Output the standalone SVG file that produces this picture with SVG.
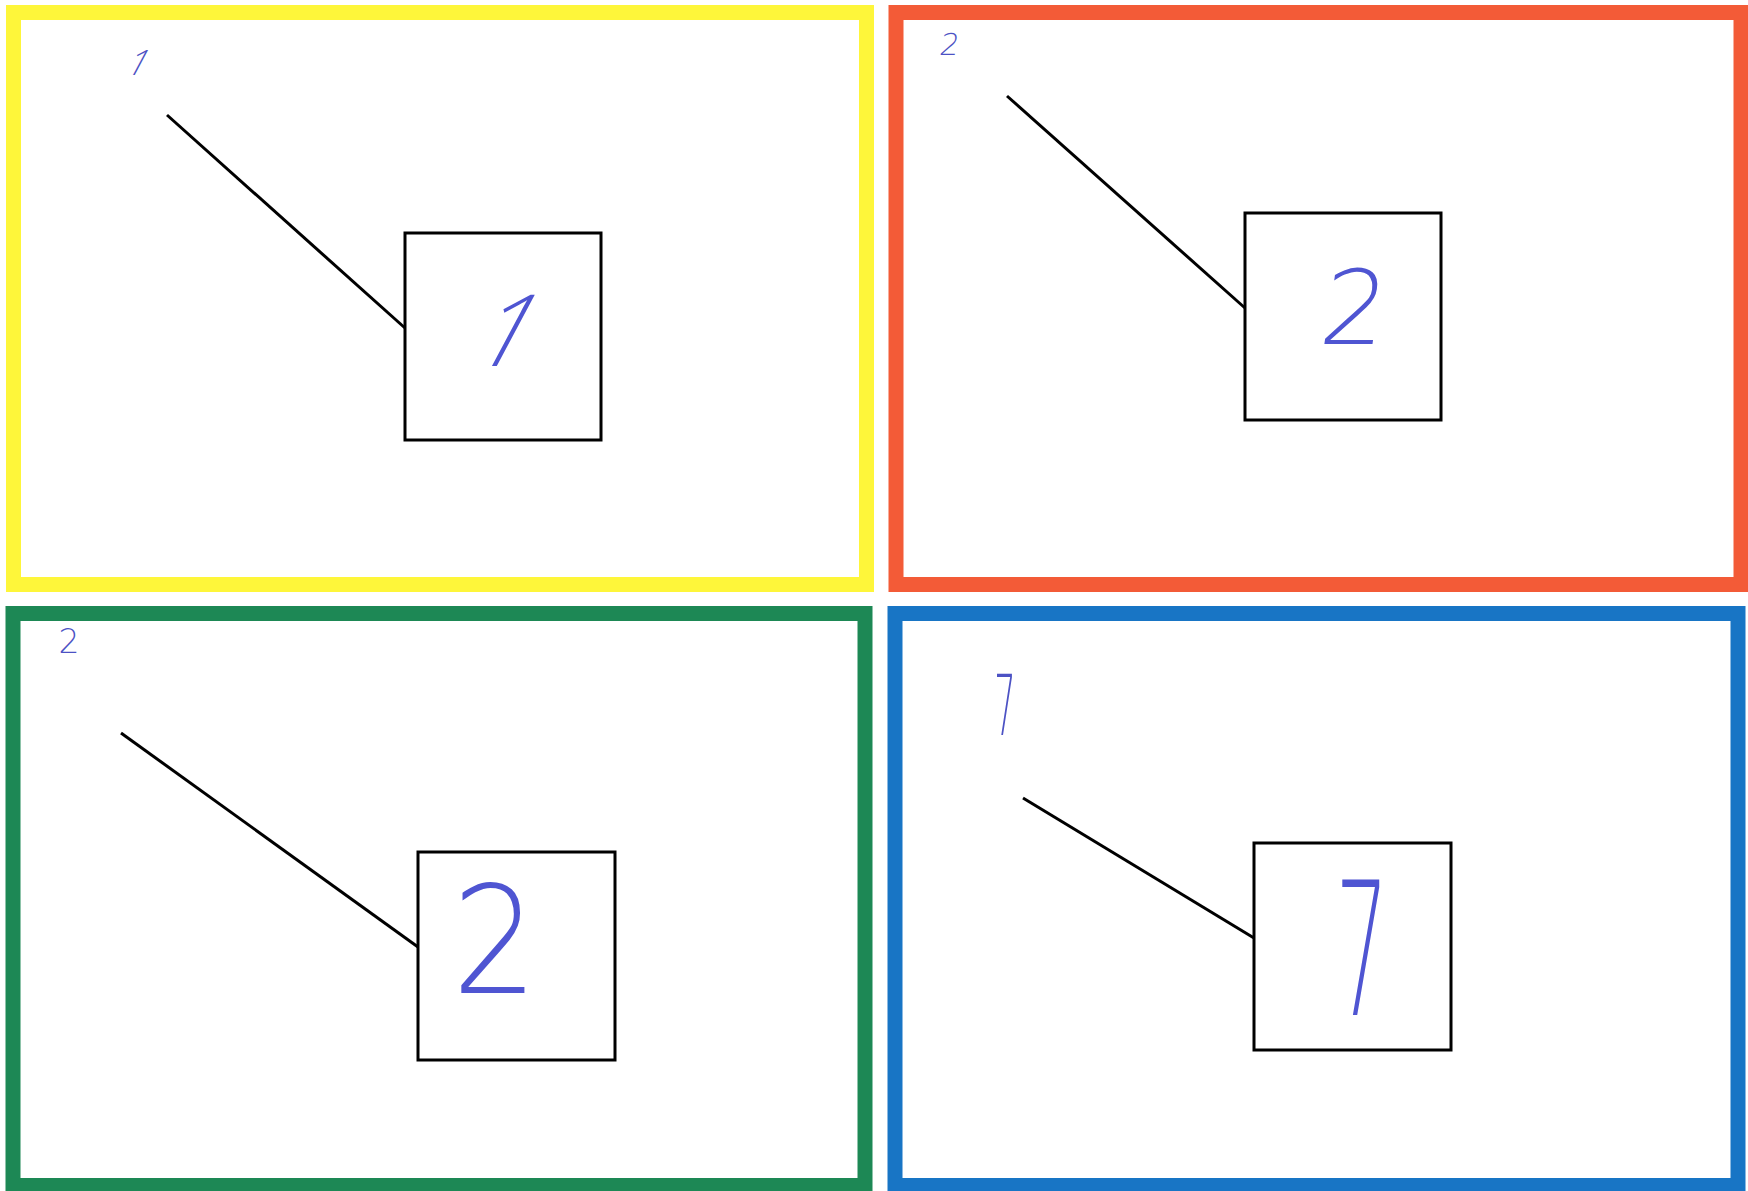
<svg xmlns="http://www.w3.org/2000/svg" width="1748" height="1191" viewBox="0 0 1748 1191">
<style>
.frame{fill:none;stroke-width:15}
.box{fill:#fff;stroke:#000;stroke-width:3}
.conn{stroke:#000;stroke-width:3;fill:none}
.hw{font-family:"DejaVu Sans","Liberation Sans",sans-serif;font-weight:200;fill:#4f55d2;text-anchor:middle}
.hws{font-family:"DejaVu Sans","Liberation Sans",sans-serif;font-weight:200;fill:#4c52c4;text-anchor:middle}
.one{font-family:"Open Sans","Liberation Sans",sans-serif;font-weight:300}
</style>
<rect width="1748" height="1191" fill="#fff"/>
<g id="panel1">
<rect class="frame" x="13.5" y="12.5" width="853" height="572" stroke="#fef63a"/>
<text class="hws one" font-size="35" transform="translate(133,75) skewX(-28)">1</text>
</g>
<g id="panel2">
<rect class="frame" x="896" y="12.5" width="845" height="572" stroke="#f35b37"/>
<text class="hws" font-size="30" transform="translate(948,55) skewX(-10)">2</text>
</g>
<g id="panel3">
<rect class="frame" x="13" y="613.5" width="852" height="572" stroke="#1d8855"/>
<text class="hws" font-size="33" transform="translate(69,653)">2</text>
</g>
<g id="panel4">
<rect class="frame" x="895" y="613.5" width="843" height="572" stroke="#1875c5"/>
<text class="hws" font-size="84" transform="translate(1005,735) scale(0.4,1)">7</text>
</g>
<g id="box1">
<rect class="box" x="405" y="233" width="196" height="207"/>
<text class="hw one" font-size="100" transform="translate(492,366) skewX(-28)">1</text>
</g>
<g id="box2">
<rect class="box" x="1245" y="213" width="196" height="207"/>
<text class="hw" font-size="103" transform="translate(1350,344) skewX(-8)">2</text>
</g>
<g id="box3">
<rect class="box" x="418" y="852" width="197" height="208"/>
<text class="hw" font-size="150" transform="translate(495,993) scale(0.9,1)">2</text>
</g>
<g id="box4">
<rect class="box" x="1254" y="843" width="197" height="207"/>
<text class="hw" font-size="185" transform="translate(1362,1015) scale(0.45,1)">7</text>
</g>
<g id="connectors">
<line class="conn" x1="167" y1="115" x2="405" y2="328"/>
<line class="conn" x1="1007" y1="96" x2="1245" y2="308"/>
<line class="conn" x1="121" y1="733" x2="418" y2="947"/>
<line class="conn" x1="1023" y1="798" x2="1254" y2="938"/>
</g>
</svg>
